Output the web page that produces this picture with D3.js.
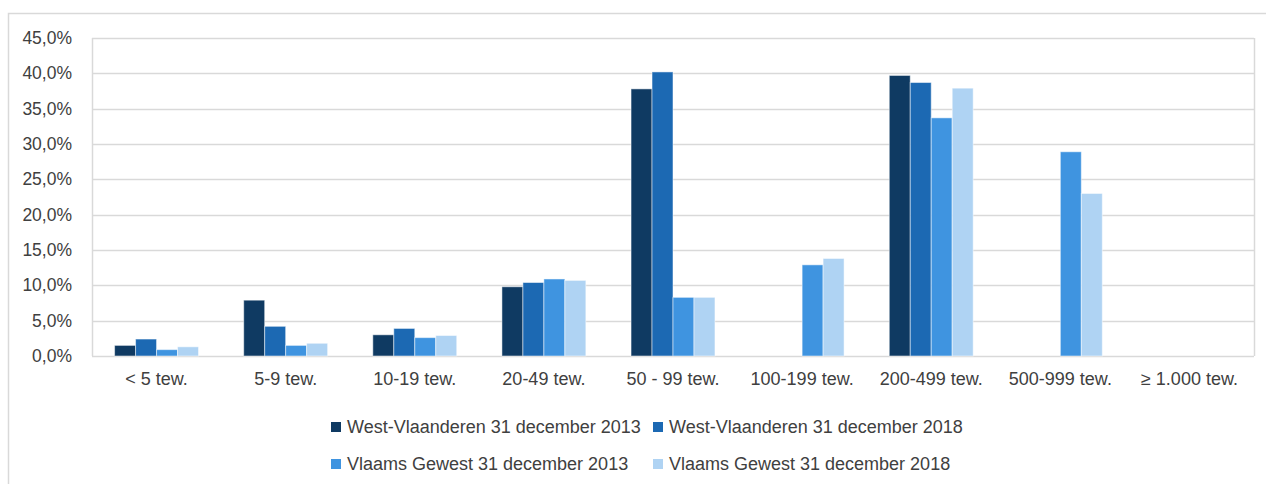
<!DOCTYPE html>
<meta charset="utf-8">
<style>
body { margin: 0; background: #fff; }
text { font-family: "Liberation Sans", Arial, sans-serif; fill: #404040; }
.grid line { stroke: #d9d9d9; stroke-width: 1.5px; }
.bars rect { stroke: rgba(255,255,255,0.5); stroke-width: 1px; }
</style>
<body>
<svg width="1266" height="484"></svg>
<script src="https://d3js.org/d3.v7.min.js"></script>
<script>
// categories and series
var categories = ["< 5 tew.", "5-9 tew.", "10-19 tew.", "20-49 tew.", "50 - 99 tew.",
                  "100-199 tew.", "200-499 tew.", "500-999 tew.", "\u2265 1.000 tew."];
var seriesNames = ["West-Vlaanderen 31 december 2013", "West-Vlaanderen 31 december 2018",
                   "Vlaams Gewest 31 december 2013", "Vlaams Gewest 31 december 2018"];
var wv2013 = [1.5, 7.9, 3.0, 9.8, 37.8, 0, 39.7, 0, 0];
var wv2018 = [2.4, 4.2, 3.9, 10.4, 40.2, 0, 38.7, 0, 0];
var vg2013 = [0.9, 1.5, 2.6, 10.9, 8.3, 12.9, 33.7, 28.9, 0];
var vg2018 = [1.3, 1.8, 2.9, 10.7, 8.3, 13.8, 37.9, 23.0, 0];
var yTicks = [0, 5, 10, 15, 20, 25, 30, 35, 40, 45];
var colors = ["#0f3a62", "#1c69b3", "#3f94e0", "#afd3f3"];

var allSeries = [wv2013, wv2018, vg2013, vg2018];

var svg = d3.select("svg"),
    margin = {top: 38, right: 12, bottom: 128, left: 92},
    width = 1266 - margin.left - margin.right,
    height = 484 - margin.top - margin.bottom;

// outer chart frame (only top and left edges fall inside the picture)
svg.append("rect")
    .attr("x", 8.5).attr("y", 13.5)
    .attr("width", 1266).attr("height", 484)
    .attr("fill", "none")
    .attr("stroke", "#d9d9d9")
    .attr("stroke-width", 1.5);

var g = svg.append("g").attr("transform", "translate(" + margin.left + "," + margin.top + ")");

var x0 = d3.scaleBand().domain(categories).range([0, width]).paddingInner(0.35).paddingOuter(0.175);
var x1 = d3.scaleBand().domain(d3.range(4)).range([0, x0.bandwidth()]);
var y = d3.scaleLinear().domain([0, 45]).range([height, 0]);

var locale = d3.formatLocale({decimal: ",", thousands: ".", grouping: [3], currency: ["", "€"]});
var fmt = locale.format(".1f");

// gridlines
g.append("g").attr("class", "grid")
  .selectAll("line")
  .data(yTicks)
  .enter().append("line")
    .attr("x1", 0).attr("x2", width)
    .attr("y1", function(d) { return Math.round(y(d)) + 0.5; })
    .attr("y2", function(d) { return Math.round(y(d)) + 0.5; });

// plot frame sides
g.append("g").attr("class", "grid").selectAll("line")
  .data([0, width])
  .enter().append("line")
    .attr("x1", function(d) { return d + 0.5; }).attr("x2", function(d) { return d + 0.5; })
    .attr("y1", y(45)).attr("y2", y(0));

// y axis
var yAxis = g.append("g")
    .call(d3.axisLeft(y).tickValues(yTicks).tickSize(0).tickPadding(20)
      .tickFormat(function(d) { return fmt(d) + "%"; }));
yAxis.select(".domain").remove();
yAxis.selectAll("text").style("font-size", "17.5px").attr("fill", "#404040");

// x axis
var xAxis = g.append("g")
    .attr("transform", "translate(0," + height + ")")
    .call(d3.axisBottom(x0).tickSize(0).tickPadding(16));
xAxis.select(".domain").remove();
xAxis.selectAll("text").style("font-size", "18px").attr("fill", "#404040");

// bars
var rows = categories.map(function(c, i) {
  return {cat: c, vals: allSeries.map(function(s) { return s[i]; })};
});

g.append("g").attr("class", "bars")
  .selectAll("g")
  .data(rows)
  .enter().append("g")
    .attr("transform", function(d) { return "translate(" + x0(d.cat) + ",0)"; })
  .selectAll("rect")
  .data(function(d) { return d.vals.map(function(v, k) { return {k: k, v: v}; }); })
  .enter().filter(function(d) { return d.v > 0; }).append("rect")
    .attr("x", function(d) { return x1(d.k); })
    .attr("width", x1.bandwidth())
    .attr("y", function(d) { return y(d.v); })
    .attr("height", function(d) { return y(0) - y(d.v); })
    .attr("fill", function(d) { return colors[d.k]; });

// legend, two rows of two
var legend = svg.append("g").selectAll("g")
  .data(seriesNames)
  .enter().append("g")
    .attr("transform", function(d, i) {
      return "translate(" + (i % 2 ? 653 : 331) + "," + (i < 2 ? 427 : 464) + ")";
    });

legend.append("rect")
    .attr("x", 0).attr("y", -5)
    .attr("width", 10).attr("height", 10)
    .attr("fill", function(d, i) { return colors[i]; });

legend.append("text")
    .attr("x", 16).attr("dy", "0.35em")
    .style("font-size", "18px")
    .text(function(d) { return d; });
</script>
</body>
